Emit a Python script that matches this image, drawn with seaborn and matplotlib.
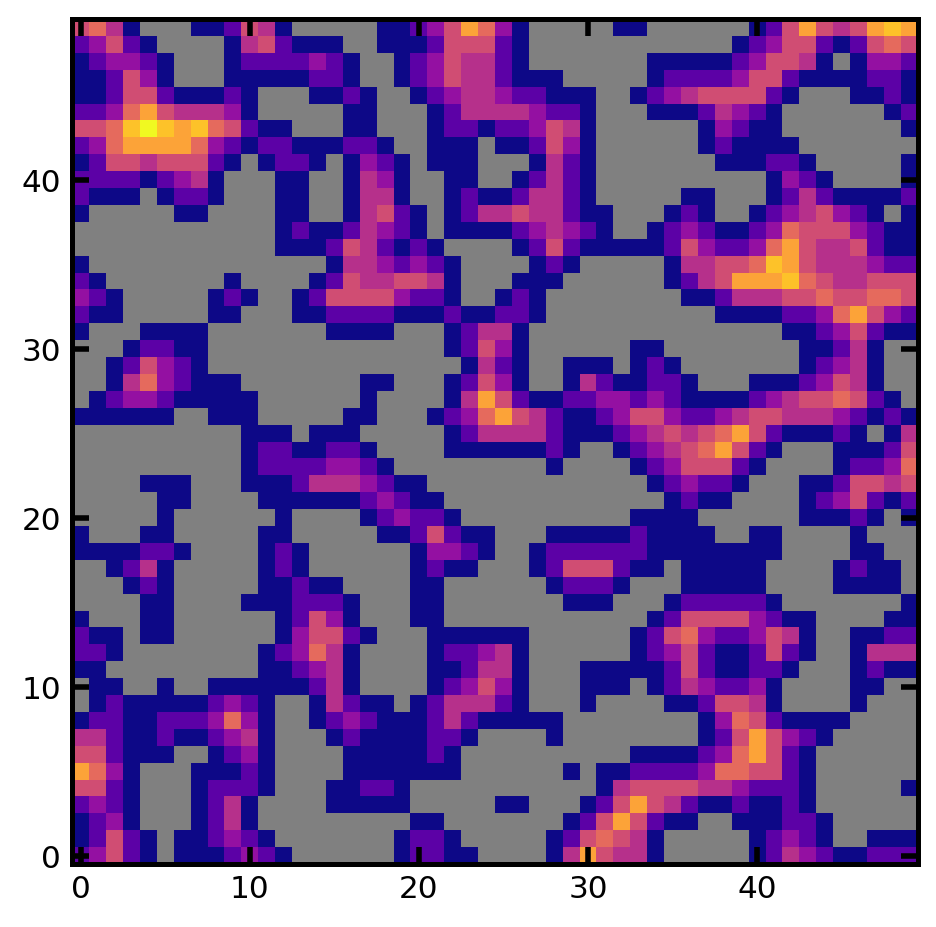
import numpy as np
import matplotlib
matplotlib.use("Agg")
import matplotlib.pyplot as plt
import seaborn as sns

# Colour levels, top row (y=49) first. "." is a masked (grey) cell.
cols_00_16 = [
"5641...112541....","23521....1452111.","123321...12222321","112531...11111221","11255211121...112",
"22367544431.....1","5568987865211...1","23677776321221112","1255455521.1221.1","222212341...11..1",
"2111.1221...11..1","1.....11....11..1","............12112","............11125","1..............14",
"21.......1....125","321.....121..1255","211.....11...1122","1...1111.......11","...12211.........",
"..125321.........","..14632111.......",".1233211111......","111111..111.....1","..........111.111",
"..........1221122","..........1222233","....111...1112444",".....11....111111",".....1......1....",
"1...11.....11....","1111221....121...","..1241.....121...","...121.....11211.","....11....1112221",
"1...11......12531","211.11......13552","221........123641","11.........112341",".11..1..111111241",
".12111112321..142","122112223631..123","442112112341...12","552111..1231....1","7631...11121....1",
"5521...12221...11","2321...1241....11","1231...1241......","12521.112321.....","23521.1112321....",
]
cols_17_33 = [
".112357631.....11",".111255521.......","..12354421.......","..1235442111.....","1..12344322111..1",
"1...1244443221...","1...1221223541...","21..111.112531...","321.111...1421...","431..11..12421...",
"441..121124421...","4521.1244544211..","4321.1111234321..","42121....12521111","432321....121....",
"445541...111.....","553221..121......","22111211221......","11...12441.......",".....12531......1",
"......1421..111.1","11...12531..14211","1....147521122332","1...1236754211235",".....124444211123",
"1....11111121..12","21.........1....1","3211.............","23211............","123221..........1",
".1125211...111112","...13321..1222222","...1211...1255521","...11......12221.","...11.......111..",
"...11............","1...111111......1","....122341......1","....112441...1111","....123531...111.",
"11.1244421...1...","211124211111.....","1111221....1.....","111121..........1","111111......1.112",
"221...........145","111.....11...1257","...11.......12575","..1221.....125654","..12211....147544",
]
cols_34_49 = [
"......1257545787",".....12355212565","11111235541.1332","1222235521111221","234555521...1121",
"11124321......12","...13211.......1","...121111.......","....111221.....1",".......1321....1",
"..11...124211112",".121..12345321.1","1232112365553211","1253223675445211",".144556875444322",
".124577786544555","..11244455655665","....111122367532","........11235211","1........11241..",
"21.......12341..","221...11123541..","321111234556521.","5322345544432121","4545675211121.14",
"34567521...11125","2355521....12236","123221...1125545",".1211....1235212","111......11121.1",
"1111..11....1...","11111111....11..","1.11111....1211.","..11111....1111.",".1222221.......1",
"1255553211....11","2563223541..1122","2352112521..1444","125211221...1211","12432231....11..",
".1125541....1...","...136521111....","...12575321.....","1112367521......","2223665521......",
"5554432221.....1","5421121121......","211..111221.....","1.....12321..111","1.....1243211222",
]
level_values = {"1": 0.0, "2": 0.165, "3": 0.31, "4": 0.42, "5": 0.52,
                "6": 0.62, "7": 0.79, "8": 0.87, "9": 1.0, ".": np.nan}
tick_values = [0, 10, 20, 30, 40]

rows = [a + b + c for a, b, c in zip(cols_00_16, cols_17_33, cols_34_49)]
grid = np.array([[level_values[ch] for ch in row] for row in rows[::-1]], dtype=float)

fig = plt.figure(figsize=(937 / 200, 928 / 200), dpi=200)
ax = fig.add_axes([72.3 / 937, 1 - 865 / 928, 845.4 / 937, 845 / 928])
ax.set_facecolor("#808080")
sns.heatmap(grid, ax=ax, cmap="plasma", vmin=0, vmax=1, cbar=False, mask=np.isnan(grid),
            square=False, xticklabels=False, yticklabels=False)
ax.set_xlim(0, 50)
ax.set_ylim(0, 50)
ax.set_xticks([v + 0.5 for v in tick_values], labels=[str(v) for v in tick_values])
ax.set_yticks([v + 0.5 for v in tick_values], labels=[str(v) for v in tick_values], rotation=0)
ax.tick_params(axis="both", which="major", direction="in", length=6, width=2, labelsize=11.2,
               top=True, right=True, bottom=True, left=True, color="black")
ax.tick_params(axis="y", pad=4.0)
for s in ax.spines.values():
    s.set_visible(True)
    s.set_linewidth(1.8)
    s.set_color("black")
fig.savefig("out.png", dpi=200, facecolor="white")
